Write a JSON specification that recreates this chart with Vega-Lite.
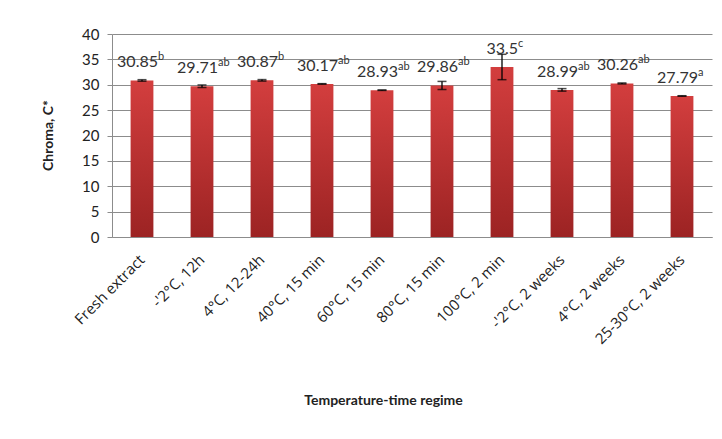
{
  "$schema": "https://vega.github.io/schema/vega-lite/v6.json",
  "width": 600,
  "height": 203,
  "autosize": "none",
  "padding": {"left": 112, "top": 34, "right": 10, "bottom": 202},
  "background": "white",
  "config": {
    "view": {"stroke": null},
    "font": "Lato",
    "axisY": {
      "titleFont": "Lato",
      "titleFontSize": 14,
      "titleFontWeight": "bold",
      "titleColor": "#222",
      "titleX": -64,
      "titleY": 101,
      "titleAngle": -90,
      "titleAlign": "center",
      "titleBaseline": "middle",
      "labelFontSize": 15,
      "labelColor": "#222",
      "labelPadding": 8,
      "tickSize": 5,
      "tickColor": "#8c8c8c",
      "domainColor": "#8c8c8c",
      "gridColor": "#8c8c8c",
      "gridOpacity": 1
    }
  },
  "data": {
    "values": [
      {"regime": "Fresh extract", "chroma": 30.85, "err": 0.15, "num": "30.85", "sup": "b"},
      {"regime": "-'2°C, 12h", "chroma": 29.71, "err": 0.25, "num": "29.71", "sup": "ab"},
      {"regime": "4°C, 12-24h", "chroma": 30.87, "err": 0.15, "num": "30.87", "sup": "b"},
      {"regime": "40°C, 15 min", "chroma": 30.17, "err": 0.05, "num": "30.17", "sup": "ab"},
      {"regime": "60°C, 15 min", "chroma": 28.93, "err": 0.05, "num": "28.93", "sup": "ab"},
      {"regime": "80°C, 15 min", "chroma": 29.86, "err": 0.8, "num": "29.86", "sup": "ab"},
      {"regime": "100°C, 2 min", "chroma": 33.5, "err": 2.5, "num": "33.5", "sup": "c"},
      {"regime": "-'2°C, 2 weeks", "chroma": 28.99, "err": 0.25, "num": "28.99", "sup": "ab"},
      {"regime": "4°C, 2 weeks", "chroma": 30.26, "err": 0.1, "num": "30.26", "sup": "ab"},
      {"regime": "25-30°C, 2 weeks", "chroma": 27.79, "err": 0.05, "num": "27.79", "sup": "a"}
    ]
  },
  "transform": [
    {"calculate": "datum.chroma - datum.err", "as": "lower"},
    {"calculate": "datum.chroma + datum.err", "as": "upper"}
  ],
  "encoding": {
    "x": {
      "field": "regime",
      "type": "nominal",
      "sort": null,
      "scale": {"paddingInner": 0.62, "paddingOuter": 0.31},
      "axis": {
        "title": "Temperature-time regime",
        "titleFont": "Lato",
        "titleFontSize": 14,
        "titleFontWeight": "bold",
        "titleColor": "#222",
        "titleX": 271,
        "titleY": 163,
        "titleBaseline": "middle",
        "labelAngle": -45,
        "labelAlign": "right",
        "labelBaseline": "middle",
        "labelFont": "Open Sans",
        "labelFontSize": 15,
        "labelColor": "#222",
        "labelPadding": 20,
        "ticks": false,
        "domainColor": "#8c8c8c",
        "grid": false
      }
    }
  },
  "layer": [
    {
      "mark": {
        "type": "bar",
        "color": {
          "gradient": "linear",
          "x1": 0, "y1": 0, "x2": 0, "y2": 1,
          "stops": [
            {"offset": 0, "color": "#d33e3e"},
            {"offset": 1, "color": "#9c2323"}
          ]
        }
      },
      "encoding": {
        "y": {
          "field": "chroma",
          "type": "quantitative",
          "title": "Chroma, C*",
          "scale": {"domain": [0, 40]},
          "axis": {"values": [0, 5, 10, 15, 20, 25, 30, 35, 40]}
        }
      }
    },
    {
      "mark": {"type": "rule", "color": "black", "strokeWidth": 1.3},
      "encoding": {
        "y": {"field": "lower", "type": "quantitative", "title": "Chroma, C*", "axis": {"values": [0, 5, 10, 15, 20, 25, 30, 35, 40]}},
        "y2": {"field": "upper"}
      }
    },
    {
      "mark": {"type": "tick", "color": "black", "size": 9, "thickness": 1.5},
      "encoding": {"y": {"field": "upper", "type": "quantitative", "title": "Chroma, C*", "axis": {"values": [0, 5, 10, 15, 20, 25, 30, 35, 40]}}}
    },
    {
      "mark": {"type": "tick", "color": "black", "size": 9, "thickness": 1.5},
      "encoding": {"y": {"field": "lower", "type": "quantitative", "title": "Chroma, C*", "axis": {"values": [0, 5, 10, 15, 20, 25, 30, 35, 40]}}}
    },
    {
      "mark": {"type": "text", "fontSize": 16, "color": "#333", "baseline": "middle", "align": "right", "dx": 16, "dy": -18, "font": "Lato"},
      "encoding": {
        "y": {"field": "chroma", "type": "quantitative", "title": "Chroma, C*", "axis": {"values": [0, 5, 10, 15, 20, 25, 30, 35, 40]}},
        "text": {"field": "num"}
      }
    },
    {
      "mark": {"type": "text", "fontSize": 11, "color": "#333", "baseline": "middle", "align": "left", "dx": 16, "dy": -23, "font": "Lato"},
      "encoding": {
        "y": {"field": "chroma", "type": "quantitative", "title": "Chroma, C*", "axis": {"values": [0, 5, 10, 15, 20, 25, 30, 35, 40]}},
        "text": {"field": "sup"}
      }
    }
  ]
}
